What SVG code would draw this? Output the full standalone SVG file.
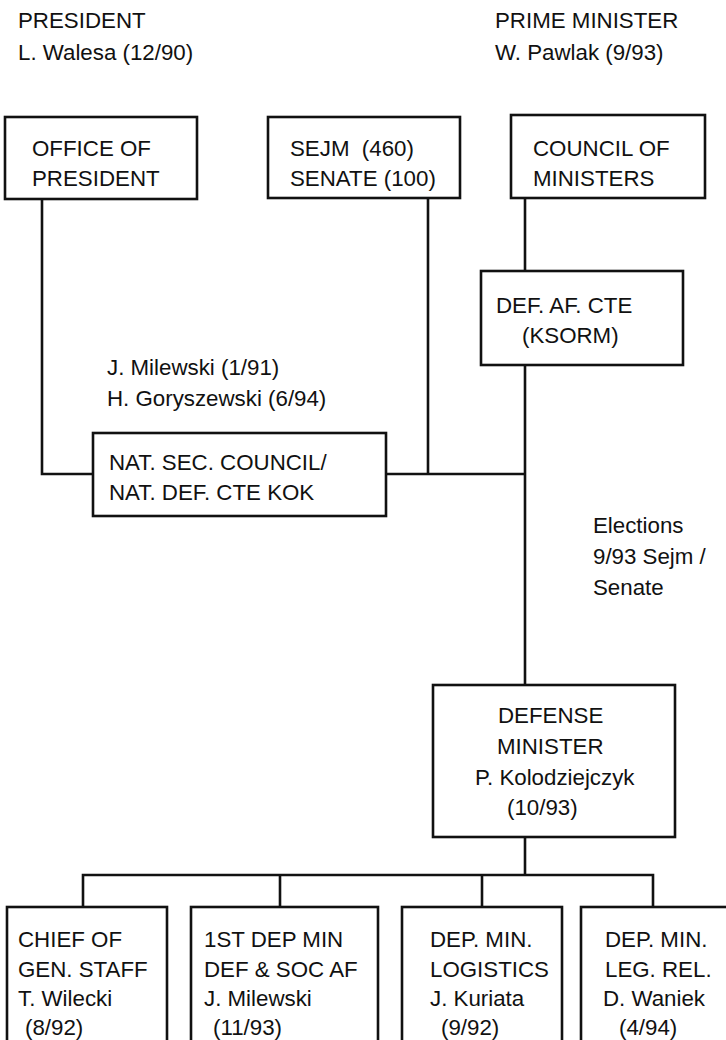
<svg xmlns="http://www.w3.org/2000/svg" width="726" height="1040" viewBox="0 0 726 1040">
<style>
text{font-family:"Liberation Sans",Arial,sans-serif;font-size:22.3px;fill:#111}
.box{fill:#fff;stroke:#111;stroke-width:2.6}
.ln{fill:none;stroke:#111;stroke-width:2.6}
</style>
<rect width="726" height="1040" fill="#fff"/>
<g id="connectors">
<path class="ln" d="M42 199V474H93"/>
<path class="ln" d="M428 198V474"/>
<path class="ln" d="M525 198V271"/>
<path class="ln" d="M386 474H525"/>
<path class="ln" d="M525 365V685"/>
<path class="ln" d="M525 837V875"/>
<path class="ln" d="M83 907V875H653V907"/>
<path class="ln" d="M280 875V907"/>
<path class="ln" d="M482 875V907"/>
</g>
<g id="president-label">
<text x="18" y="28">PRESIDENT</text>
<text x="18" y="60">L. Walesa (12/90)</text>
</g>
<g id="pm-label">
<text x="495" y="28">PRIME MINISTER</text>
<text x="495" y="60">W. Pawlak (9/93)</text>
</g>
<g id="office-president">
<rect class="box" x="5" y="117" width="192" height="82"/>
<text x="32" y="156">OFFICE OF</text>
<text x="32" y="186">PRESIDENT</text>
</g>
<g id="sejm-senate">
<rect class="box" x="268" y="117" width="192" height="81"/>
<text x="290" y="156" xml:space="preserve">SEJM  (460)</text>
<text x="290" y="186">SENATE (100)</text>
</g>
<g id="council-ministers">
<rect class="box" x="511" y="115" width="194" height="83"/>
<text x="533" y="156">COUNCIL OF</text>
<text x="533" y="186">MINISTERS</text>
</g>
<g id="def-af-cte">
<rect class="box" x="481" y="271" width="202" height="94"/>
<text x="496" y="313">DEF. AF. CTE</text>
<text x="522" y="343">(KSORM)</text>
</g>
<g id="nsc-label">
<text x="107" y="375">J. Milewski (1/91)</text>
<text x="107" y="406">H. Goryszewski (6/94)</text>
</g>
<g id="nat-sec-council">
<rect class="box" x="93" y="433" width="293" height="83"/>
<text x="109" y="470">NAT. SEC. COUNCIL/</text>
<text x="109" y="500">NAT. DEF. CTE KOK</text>
</g>
<g id="elections-label">
<text x="593" y="533">Elections</text>
<text x="593" y="564">9/93 Sejm /</text>
<text x="593" y="595">Senate</text>
</g>
<g id="defense-minister">
<rect class="box" x="433" y="685" width="242" height="152"/>
<text x="498" y="723">DEFENSE</text>
<text x="497" y="754">MINISTER</text>
<text x="475" y="785">P. Kolodziejczyk</text>
<text x="507" y="815">(10/93)</text>
</g>
<g id="chief-gen-staff">
<rect class="box" x="7" y="907" width="160" height="140"/>
<text x="18" y="947">CHIEF OF</text>
<text x="18" y="977">GEN. STAFF</text>
<text x="18" y="1006">T. Wilecki</text>
<text x="25" y="1035">(8/92)</text>
</g>
<g id="first-dep-min">
<rect class="box" x="191" y="907" width="187" height="140"/>
<text x="204" y="947">1ST DEP MIN</text>
<text x="204" y="977">DEF &amp; SOC AF</text>
<text x="204" y="1006">J. Milewski</text>
<text x="213" y="1035">(11/93)</text>
</g>
<g id="dep-min-logistics">
<rect class="box" x="402" y="907" width="160" height="140"/>
<text x="430" y="947">DEP. MIN.</text>
<text x="430" y="977">LOGISTICS</text>
<text x="430" y="1006">J. Kuriata</text>
<text x="441" y="1035">(9/92)</text>
</g>
<g id="dep-min-leg-rel">
<rect class="box" x="581" y="907" width="160" height="140"/>
<text x="605" y="947">DEP. MIN.</text>
<text x="605" y="977">LEG. REL.</text>
<text x="603" y="1006">D. Waniek</text>
<text x="619" y="1035">(4/94)</text>
</g>
</svg>
